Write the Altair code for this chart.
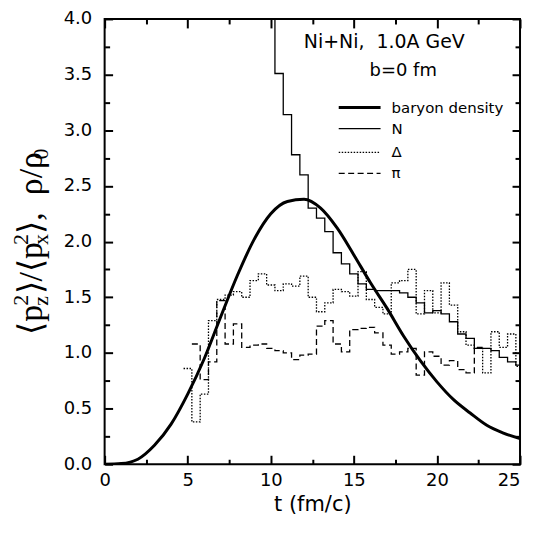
import altair as alt
import pandas as pd

# ---------------- data ----------------
# histogram bins of width 0.5 fm/c, given by their centres
n_t = [10.0, 10.5, 11.0, 11.5, 12.0, 12.5, 13.0, 13.5, 14.0, 14.5, 15.0, 15.5,
       16.0, 16.5, 17.0, 17.5, 18.0, 18.5, 19.0, 19.5, 20.0, 20.5, 21.0, 21.5,
       22.0, 22.5, 23.0, 23.5, 24.0, 24.5, 25.0]
n_v = [4.60, 3.51, 3.14, 2.78, 2.60, 2.30, 2.21, 2.09, 1.90, 1.80, 1.71, 1.62,
       1.57, 1.56, 1.56, 1.56, 1.54, 1.50, 1.45, 1.36, 1.38, 1.35, 1.28, 1.17,
       1.13, 1.04, 1.04, 1.02, 0.96, 0.92, 0.89]

delta_t = [5.0, 5.5, 6.0, 6.5, 7.0, 7.5, 8.0, 8.5, 9.0, 9.5, 10.0, 10.5, 11.0,
           11.5, 12.0, 12.5, 13.0, 13.5, 14.0, 14.5, 15.0, 15.5, 16.0, 16.5,
           17.0, 17.5, 18.0, 18.5, 19.0, 19.5, 20.0, 20.5, 21.0, 21.5, 22.0,
           22.5, 23.0, 23.5, 24.0, 24.5, 25.0]
delta_v = [0.86, 0.38, 0.63, 1.29, 1.48, 1.52, 1.55, 1.50, 1.65, 1.71, 1.61,
           1.56, 1.62, 1.60, 1.69, 1.50, 1.37, 1.45, 1.57, 1.55, 1.51, 1.73,
           1.48, 1.41, 1.35, 1.63, 1.65, 1.75, 1.35, 1.56, 1.36, 1.63, 1.43,
           1.19, 1.07, 1.04, 0.82, 1.19, 1.05, 1.17, 0.88]

pi_t = [5.5, 6.0, 6.5, 7.0, 7.5, 8.0, 8.5, 9.0, 9.5, 10.0, 10.5, 11.0, 11.5,
        12.0, 12.5, 13.0, 13.5, 14.0, 14.5, 15.0, 15.5, 16.0, 16.5, 17.0,
        17.5, 18.0, 18.5, 19.0, 19.5, 20.0, 20.5, 21.0, 21.5, 22.0, 22.5]
pi_v = [1.08, 0.76, 0.92, 1.47, 1.08, 1.26, 1.05, 1.07, 1.08, 1.04, 1.02,
        1.00, 0.94, 0.98, 0.99, 1.24, 1.29, 1.08, 1.01, 1.21, 1.22, 1.23,
        1.18, 1.07, 0.99, 1.01, 1.04, 0.80, 1.01, 0.97, 0.89, 0.93, 0.85,
        0.82, 1.05]

rho_t = [0, 1, 2, 3, 4, 5, 6, 7, 8, 9, 10, 11, 12, 13, 14, 15, 16, 17, 18,
         19, 20, 21, 22, 23, 24, 25]
rho_v = [0.0, 0.006, 0.045, 0.17, 0.36, 0.63, 0.95, 1.33, 1.70, 2.02, 2.25,
         2.36, 2.38, 2.30, 2.12, 1.88, 1.63, 1.40, 1.15, 0.93, 0.74, 0.58,
         0.46, 0.35, 0.28, 0.23]

x_major = [0, 5, 10, 15, 20, 25]
x_minor = [2.5, 7.5, 12.5, 17.5, 22.5]
y_major = [0.0, 0.5, 1.0, 1.5, 2.0, 2.5, 3.0, 3.5, 4.0]
y_minor = [0.25, 0.75, 1.25, 1.75, 2.25, 2.75, 3.25, 3.75]

legend_labels = ["baryon density", "N", "\u0394", "\u03c0"]
NB = "\u00a0"


def steps(ts, vs):
    """bin centres -> step-after polyline through the bin edges"""
    rows = [{"t": c - 0.25, "v": v} for c, v in zip(ts, vs)]
    rows.append({"t": ts[-1] + 0.25, "v": vs[-1]})
    return pd.DataFrame(rows)


df_n = steps(n_t, n_v)
df_d = steps(delta_t, delta_v)
df_p = steps(pi_t, pi_v)
df_r = pd.DataFrame({"t": rho_t, "v": rho_v})
dummy = pd.DataFrame({"d": [0]})

xs = alt.Scale(domain=[0, 25], nice=False, zero=False)
ys = alt.Scale(domain=[0, 4], nice=False, zero=False)

FONT = "DejaVu Sans"


def tick_axis(orient, values, size):
    return alt.Axis(orient=orient, values=values, offset=-size, tickSize=size,
                    tickWidth=2, tickColor="black", labels=False,
                    domain=False, grid=False, title=None)


x_label_axis = alt.Axis(
    orient="bottom", values=x_major, ticks=False, domain=False, grid=False,
    format="d", labelFont=FONT, labelFontSize=18, labelColor="black",
    labelPadding=7, labelAngle=0, labelFlush=False, labelOverlap=False,
    labelAlign=alt.ExprRef(expr="datum.value == 25 ? 'right' : 'center'"),
    title="t (fm/c)", titleFont=FONT, titleFontSize=21,
    titleFontWeight="normal", titleColor="black", titlePadding=4)
y_label_axis = alt.Axis(
    orient="left", values=y_major, ticks=False, domain=False, grid=False,
    format=".1f", labelFont=FONT, labelFontSize=18, labelColor="black",
    labelPadding=13, labelFlush=False, labelOverlap=False, title=None)


def enc(ax_x, ax_y):
    return dict(x=alt.X("t:Q", scale=xs, axis=ax_x),
                y=alt.Y("v:Q", scale=ys, axis=ax_y))


rho = alt.Chart(df_r).mark_line(color="black", strokeWidth=3,
                                interpolate="monotone", clip=True).encode(
    **enc(x_label_axis, y_label_axis))
nuc = alt.Chart(df_n).mark_line(color="black", strokeWidth=1.3,
                                interpolate="step-after", clip=True).encode(
    **enc(tick_axis("bottom", x_major, 9), tick_axis("left", y_major, 8)))
dlt = alt.Chart(df_d).mark_line(color="black", strokeWidth=1.3,
                                strokeDash=[1.5, 1.5],
                                interpolate="step-after", clip=True).encode(
    **enc(tick_axis("bottom", x_minor, 5), tick_axis("left", y_minor, 5)))
pion = alt.Chart(df_p).mark_line(color="black", strokeWidth=1.3,
                                 strokeDash=[6, 3.5],
                                 interpolate="step-after", clip=True).encode(
    **enc(tick_axis("top", x_major, 9), tick_axis("right", y_major, 8)))
ghost = alt.Chart(df_r).mark_line(opacity=0).encode(
    **enc(tick_axis("top", x_minor, 5), tick_axis("right", y_minor, 5)))


def txt(s, x, y, size=18, font=FONT, align="left", baseline="alphabetic",
        angle=0, dx=0, dy=0):
    kw = dict(align=align, baseline=baseline, font=font, fontSize=size,
              color="black", dx=dx, dy=dy)
    if angle:
        kw["angle"] = angle
    return alt.Chart(dummy).mark_text(**kw).encode(
        x=alt.value(x), y=alt.value(y), text=alt.value(s))


def rule(x1, x2, y, width, dash=None):
    kw = dict(color="black", strokeWidth=width)
    if dash:
        kw["strokeDash"] = dash
    return alt.Chart(dummy).mark_rule(**kw).encode(
        x=alt.value(x1), x2=alt.value(x2), y=alt.value(y))


annot = [
    txt("Ni+Ni," + NB + NB + "1.0A GeV", 200, 29, size=19),
    txt("b=0 fm", 266, 57),
]

leg_y = [89, 110, 134, 155]
legend = [
    rule(235, 277, leg_y[0], 3),
    rule(235, 277, leg_y[1], 1.3),
    rule(235, 277, leg_y[2], 1.3, [1.5, 1.5]),
    rule(235, 277, leg_y[3], 1.3, [6, 3.5]),
]
for lab, yy in zip(legend_labels, leg_y):
    legend.append(txt(lab, 288, yy, size=15, baseline="middle"))

# y-axis title built from pieces (rotated, reading bottom -> top)
TX, TY = -63, 317
SER = "Liberation Serif"
BIG, SMALL = 34, 22
SUP, SUB = -14, 6
ytitle = [
    txt("\u27e8p", TX, TY, size=BIG, font=SER, angle=270, dx=0),
    txt("2", TX, TY, size=SMALL, font=SER, angle=270, dx=29, dy=SUP),
    txt("z", TX, TY, size=SMALL, font=SER, angle=270, dx=29, dy=SUB),
    txt("\u27e9/\u27e8p", TX, TY, size=BIG, font=SER, angle=270, dx=40.5),
    txt("2", TX, TY, size=SMALL, font=SER, angle=270, dx=90, dy=SUP),
    txt("x", TX, TY, size=SMALL, font=SER, angle=270, dx=90, dy=SUB),
    txt("\u27e9," + NB + NB + "\u03c1/\u03c1", TX, TY, size=BIG, font=SER,
        angle=270, dx=101.5),
    txt("0", TX, TY, size=SMALL, font=SER, angle=270, dx=176, dy=SUB),
]

chart = alt.layer(
    nuc, dlt, pion, ghost, rho, *annot, *legend, *ytitle
).resolve_axis(
    x="independent", y="independent"
).properties(
    width=417, height=447,
    autosize=alt.AutoSizeParams(type="none"),
    padding={"left": 97, "top": 10, "right": 6, "bottom": 60},
).configure_view(stroke="black", strokeWidth=2)

chart.save("out.html", embed_options={"renderer": "svg", "actions": False})
